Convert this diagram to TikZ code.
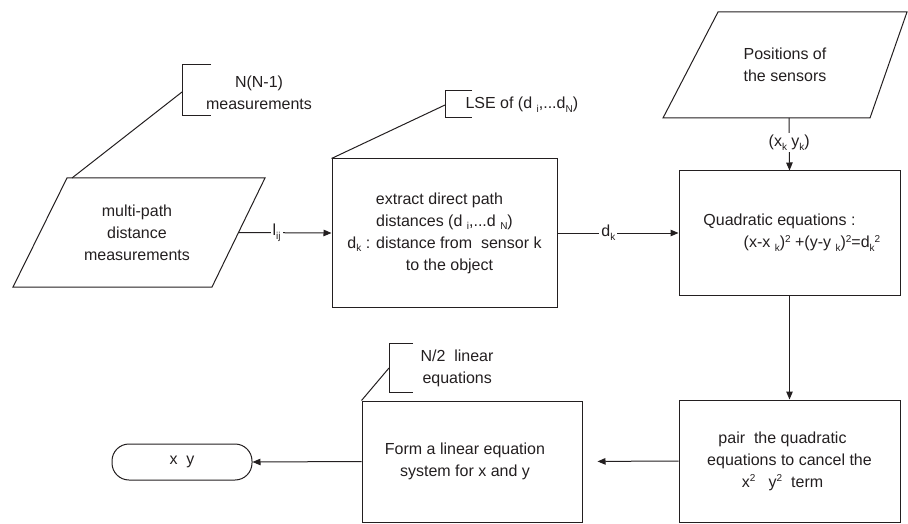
\documentclass[tikz,border=0pt]{standalone}
\usepackage{fontspec}
\setmainfont{Liberation Sans}
\usetikzlibrary{arrows.meta}
\definecolor{ink}{RGB}{35,31,32}
\newcommand{\mydn}[1]{\raisebox{-0.45ex}{\fontsize{10}{10}\selectfont #1}}
\newcommand{\myup}[1]{\raisebox{0.65ex}{\fontsize{10}{10}\selectfont #1}}
\begin{document}
\begin{tikzpicture}[x=1pt,y=-1pt, line width=1pt, draw=ink, text=ink,
  every node/.style={font=\fontsize{16}{22}\selectfont, align=center, inner sep=0pt, text=ink},
  box/.style={draw=ink, rectangle, inner sep=0pt},
  arr/.style={-{Triangle[length=8pt,width=6.5pt]}},
  lbl/.style={fill=white, inner sep=2pt}]
\useasboundingbox (0,0) rectangle (908,524);

% input parallelogram: multi-path distance measurements
\draw (67,178) -- (265,178) -- (212,287) -- (13,287) -- cycle;
\node (mp) at (137,233) {multi-path\\distance\\measurements};
\coordinate (mpR) at (238.5,232.5);
\coordinate (mpT) at (72,178);

% input parallelogram: positions of the sensors
\draw (718,12) -- (907,12) -- (870,118) -- (663,118) -- cycle;
\node (ps) at (785,65) {Positions of\\the sensors};
\coordinate (psB) at (789,118);

% process boxes
\node[box, minimum width=225pt, minimum height=148pt] (extract) at (444.5,233)
  {extract direct path\hspace*{10pt}\\distances (d \mydn{i},...d \mydn{N})\\d\mydn{k} : distance from\ \ sensor k\hspace*{10pt}\\to the object\hspace*{-10pt}};
\node[box, minimum width=221pt, minimum height=124pt] (quad) at (789.5,233)
  {Quadratic equations :\hspace*{20pt}\\\hspace*{45pt}(x-x \mydn{k})\myup{2} +(y-y \mydn{k})\myup{2}=d\mydn{k}\myup{2}};
\node[box, minimum width=221pt, minimum height=122pt] (pair) at (789.5,461)
  {pair\ \ the quadratic\hspace*{14pt}\\equations to cancel the\hspace*{14pt}\\x\myup{2}\ \ \ y\myup{2}\ \ term\hspace*{14pt}};
\node[box, minimum width=220pt, minimum height=121pt] (form) at (472,461.5)
  {Form a linear equation\hspace*{14pt}\\system for x and y\hspace*{14pt}};

% terminal
\node[draw=ink, rounded corners=17pt, minimum width=140pt, minimum height=36pt] (xy) at (182,462) {x\ \ y};

% connectors
\draw[arr] (mpR) -- (extract.west) node[lbl, pos=0.41] {l\mydn{ij}};
\draw[arr] (extract.east) -- (quad.west) node[lbl, pos=0.42] {d\mydn{k}};
\draw[arr] (psB) -- (quad.north) node[lbl, pos=0.47] {(x\mydn{k} y\mydn{k})};
\draw[arr] (quad.south) -- (pair.north);
\draw[arr, shorten >=15pt] (pair.west) -- (form.east);
\draw[arr] (form.west) -- (xy.east);

% annotation brackets
\draw (211,65) -- (182,65) -- (182,116) -- (211,116);
\coordinate (b1) at (182,92);
\draw (b1) -- (mpT);
\node (n1) at (259,93) {N(N-1)\\measurements};

\draw (472,91) -- (445,91) -- (445,118) -- (472,118);
\coordinate (b2) at (445,105);
\draw (b2) -- (extract.north west);
\node[anchor=west] (n2) at (465,105) {LSE of (d \mydn{i},...d\mydn{N})};

\draw (413,343) -- (389,343) -- (389,392) -- (413,392);
\coordinate (b3) at (389,368);
\draw (b3) -- (form.north west);
\node[anchor=west, align=left] (n3) at (420,368) {N/2\ \ linear\\\hspace*{2pt}equations};
\end{tikzpicture}
\end{document}
